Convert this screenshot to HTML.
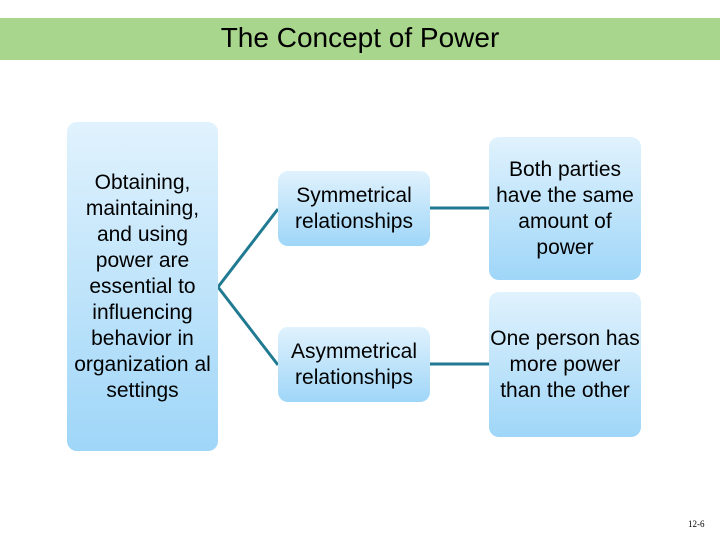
<!DOCTYPE html>
<html><head><style>
body{margin:0;width:720px;height:540px;background:#fff;position:relative;overflow:hidden;font-family:"Liberation Sans",sans-serif}
.hdr{position:absolute;left:0;top:18px;width:720px;height:42px;background:#a8d68c}
.title{position:absolute;left:0;width:720px;top:20px;text-align:center;font-size:28px;color:#000;line-height:36px}
.b{position:absolute;border-radius:10px;background:linear-gradient(#e0f2fd,#9fd6f8);display:flex;align-items:center;justify-content:center;text-align:center;font-size:21px;line-height:26px;color:#000}
.s{position:absolute;font-family:"Liberation Serif",serif;font-size:9px;left:688px;top:519px}
</style></head><body>
<div class="hdr"></div>
<div class="title">The Concept of Power</div>
<svg style="position:absolute;left:0;top:0" width="720" height="540">
<polyline points="278,209 218,287 278,365" fill="none" stroke="#1f7a92" stroke-width="3"/>
<line x1="430" y1="208" x2="489" y2="208" stroke="#1f7a92" stroke-width="3"/>
<line x1="430" y1="364" x2="489" y2="364" stroke="#1f7a92" stroke-width="3"/>
</svg>
<div class="b" style="left:67px;top:122px;width:151px;height:329px">Obtaining, maintaining, and using power are essential to influencing behavior in organization al settings</div>
<div class="b" style="left:278px;top:171px;width:152px;height:75px">Symmetrical relationships</div>
<div class="b" style="left:278px;top:327px;width:152px;height:75px">Asymmetrical relationships</div>
<div class="b" style="left:489px;top:137px;width:152px;height:143px">Both parties have the same amount of power</div>
<div class="b" style="left:489px;top:292px;width:152px;height:145px">One person has more power than the other</div>
<div class="s">12-6</div>
</body></html>
